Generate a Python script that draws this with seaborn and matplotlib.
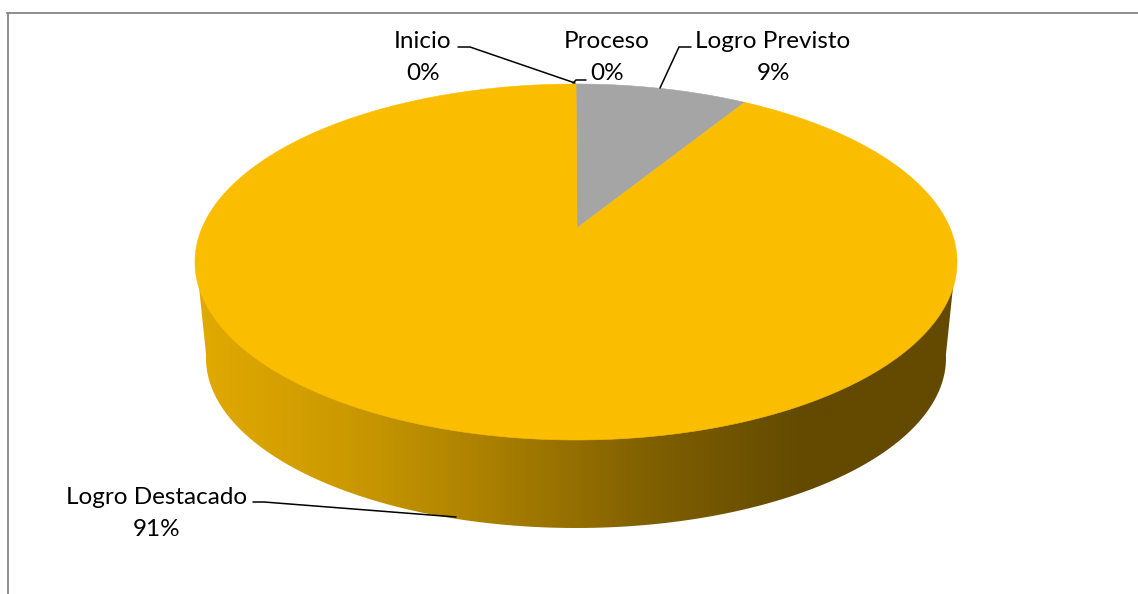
import numpy as np
import matplotlib
matplotlib.use("Agg")
import matplotlib.pyplot as plt
from matplotlib.patches import Polygon
import seaborn as sns

categories = ["Inicio", "Proceso", "Logro Previsto", "Logro Destacado"]
values = [0, 0, 9, 91]
percent_labels = ["0%", "0%", "9%", "91%"]
slice_colors = ["#4472C4", "#ED7D31", "#A5A5A5", "#FBBD00"]

sns.set_theme(style="white")
plt.rcParams["font.family"] = ["Lato", "DejaVu Sans"]

W, H = 1138, 594
fig = plt.figure(figsize=(W / 100, H / 100), dpi=100, facecolor="white")
ax = fig.add_axes([7.5 / W, 0, 1 - 7.5 / W, 1 - 12.5 / H])
ax.set_xticks([])
ax.set_yticks([])
sns.despine(ax=ax, top=False, left=False, right=True, bottom=True)
for s in ("top", "left"):
    ax.spines[s].set_color("#868686")
    ax.spines[s].set_linewidth(1.3)

# pie geometry (pixel-like axis units)
cx, cy, rx, ry = 576.0, 262.0, 381.0, 178.0
apex_x, apex_y = 577.0, 228.0
bx, by, brx, bry = 576.0, 358.0, 370.0, 170.0
persp = 0.778


def rim(theta):
    phi = np.arctan2(persp * np.sin(theta), np.cos(theta))
    return cx + rx * np.sin(phi), cy - ry * np.cos(phi)


# side wall: gradient clipped to the extruded outline
u = np.linspace(np.pi / 2 - 0.02, 3 * np.pi / 2 + 0.02, 200)
bot_x, bot_y = bx + brx * np.sin(u), by - bry * np.cos(u)
outline = np.r_[np.c_[bot_x, bot_y], [[cx - rx + 2, cy + 6], [cx, cy], [cx + rx - 2, cy + 6]]]

grad_cmap = sns.blend_palette(["#E2AA00", "#CB9900", "#A87E00", "#7F5F00", "#634A00", "#634A00"],
                              as_cmap=True)
grad = np.linspace(0, 1, 512).reshape(1, -1)
im = ax.imshow(grad, cmap=grad_cmap, extent=(195, 957, 530, 250), aspect="auto", zorder=1)
ax.set_xlim(7.5, W)
ax.set_ylim(H, 12.5)
clip = Polygon(outline, closed=True, transform=ax.transData, fc="none", ec="none")
ax.add_patch(clip)
im.set_clip_path(clip)

# top face, one slice per value
total = sum(values)
start = 0.0
for val, col in zip(values, slice_colors):
    end = start + 2 * np.pi * val / total
    if val > 0:
        th = np.linspace(start, end, 400)
        px, py = rim(th)
        ax.fill(np.r_[apex_x, px], np.r_[apex_y, py], color=col, lw=0.4, zorder=2)
    start = end

# labels and leader lines
label_pos = [(423, 41.5), (607, 41.5), (773, 41.5), (157, 497.5)]
leaders = [
    [(458, 47), (470, 47), (575, 83)],
    [(586, 80), (576, 80), (573, 83)],
    [(691, 47), (679, 47), (660, 88)],
    [(253, 502), (264, 502), (456, 517)],
]
line_gap = 32
for name, pct, (x, y), path in zip(categories, percent_labels, label_pos, leaders):
    ax.text(x, y, name, ha="center", va="center", fontsize=17.5, color="black", zorder=4)
    ax.text(x, y + line_gap, pct, ha="center", va="center", fontsize=17.5, color="black", zorder=4)
    xs, ys = zip(*path)
    ax.plot(xs, ys, color="black", lw=1.1, zorder=3, solid_joinstyle="round")

fig.savefig("out.png", dpi=100)
